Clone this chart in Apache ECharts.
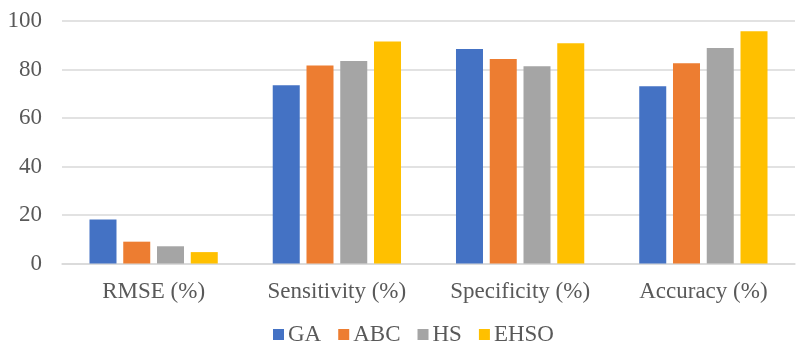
<!DOCTYPE html>
<html>
<head>
<meta charset="utf-8">
<script src="https://cdn.jsdelivr.net/npm/echarts@6/dist/echarts.min.js"></script>
<style>
  html, body { margin: 0; padding: 0; background: #fff; }
  #chart { width: 797px; height: 342px; }
</style>
</head>
<body>
<div id="chart"></div>
<script>
// Metrics compared across the four optimisation methods
const categories = ['RMSE (%)', 'Sensitivity (%)', 'Specificity (%)', 'Accuracy (%)'];
const seriesNames = ['GA', 'ABC', 'HS', 'EHSO'];
const gaValues   = [18.1, 73.5, 88.5, 73.1];
const abcValues  = [9.0, 81.6, 84.3, 82.6];
const hsValues   = [7.1, 83.5, 81.3, 88.9];
const ehsoValues = [4.7, 91.5, 90.8, 95.8];
const yTicks = [0, 20, 40, 60, 80, 100];

const colors = ['#4472C4', '#ED7D31', '#A5A5A5', '#FFC000'];
const allValues = [gaValues, abcValues, hsValues, ehsoValues];
const textFont = { fontFamily: '"Liberation Serif", "Times New Roman", serif', fontSize: 23, color: '#595959' };

const chart = echarts.init(document.getElementById('chart'), null, { renderer: 'canvas' });
chart.setOption({
  animation: false,
  color: colors,
  grid: { left: 62, right: 2, top: 21, height: 242.5, containLabel: false },
  legend: {
    data: seriesNames,
    left: 268,
    top: 318,
    icon: 'rect',
    itemWidth: 11,
    itemHeight: 11,
    itemGap: 17,
    textStyle: Object.assign({ padding: [0, 0, 0, -1], lineHeight: 23 }, textFont)
  },
  xAxis: {
    type: 'category',
    data: categories,
    axisTick: { show: false },
    axisLine: { lineStyle: { color: '#d9d9d9', width: 1.5 } },
    axisLabel: Object.assign({ margin: 17 }, textFont)
  },
  yAxis: {
    type: 'value',
    min: yTicks[0],
    max: yTicks[yTicks.length - 1],
    interval: yTicks[1] - yTicks[0],
    axisLine: { show: false },
    axisTick: { show: false },
    splitLine: { lineStyle: { color: '#d9d9d9', width: 1.5 } },
    axisLabel: Object.assign({ margin: 20 }, textFont)
  },
  series: seriesNames.map((name, i) => ({
    name: name,
    type: 'bar',
    data: allValues[i],
    barGap: '25%',
    barCategoryGap: '30%',
    itemStyle: { color: colors[i] }
  }))
});
</script>
</body>
</html>
